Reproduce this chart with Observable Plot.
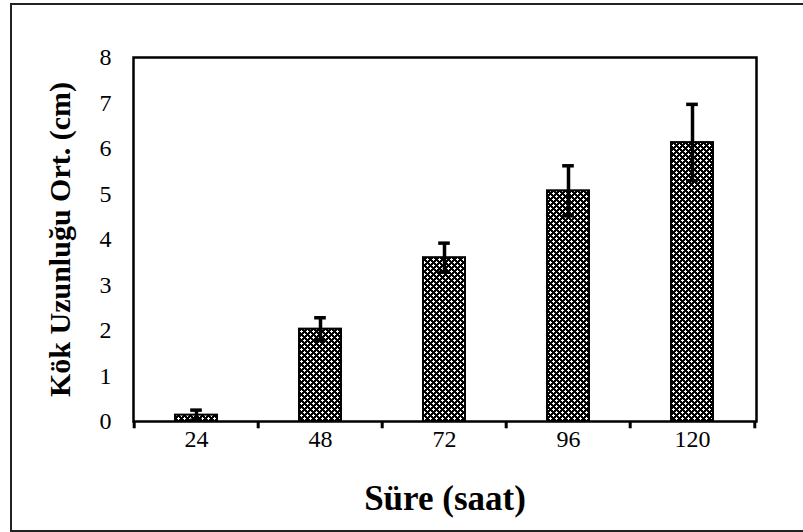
<!DOCTYPE html>
<html>
<head>
<meta charset="utf-8">
<script src="https://cdn.jsdelivr.net/npm/d3@7"></script>
<script src="https://cdn.jsdelivr.net/npm/@observablehq/plot@0.6"></script>
<style>
  html, body { margin: 0; padding: 0; background: #fff; }
  #wrap { position: relative; width: 803px; height: 532px; overflow: hidden; }
  #border { position: absolute; left: 10px; top: 3px; width: 820px; height: 525px; border: 2px solid #222; pointer-events: none; }
</style>
</head>
<body>
<div id="wrap"><div id="chart"></div><div id="border"></div></div>
<script>
const hours = ["24", "48", "72", "96", "120"];
const meanLength = [0.14, 2.03, 3.60, 5.07, 6.13];
const errLength = [0.11, 0.25, 0.32, 0.55, 0.84];
const yTicks = [0, 1, 2, 3, 4, 5, 6, 7, 8];

const data = hours.map((h, i) => ({h, m: meanLength[i], e: errLength[i]}));

const W = 803, H = 532, ML = 133, MR = 47, MT = 57, MB = 111;
const PAD = 0.66;
const step = (W - ML - MR) / hours.length;
const bandW = step * (1 - PAD);
const capInset = (bandW - 12) / 2;
const serif = "'Liberation Serif', 'Times New Roman', serif";

const chart = Plot.plot({
  width: W, height: H,
  marginLeft: ML, marginRight: MR, marginTop: MT, marginBottom: MB,
  style: {fontFamily: serif, fontSize: "24px", color: "#000", background: "transparent"},
  x: {domain: hours, paddingInner: PAD, paddingOuter: PAD / 2, label: "Süre (saat)", labelAnchor: "center", labelArrow: "none", labelOffset: 88, tickSize: 0, tickPadding: 8},
  y: {domain: [0, 8], ticks: yTicks, label: "Kök Uzunluğu Ort. (cm)", labelAnchor: "center", labelArrow: "none", labelOffset: 85, tickSize: 0, tickPadding: 22},
  marks: [
    Plot.barY(data, {x: "h", y: "m", fill: "url(#chk)", stroke: "#000", strokeWidth: 2}),
    Plot.ruleX(data, {x: "h", y1: d => d.m - d.e, y2: d => d.m + d.e, stroke: "#000", strokeWidth: 3.5}),
    Plot.tickY(data, {x: "h", y: d => d.m + d.e, stroke: "#000", strokeWidth: 3.5, insetLeft: capInset, insetRight: capInset}),
    Plot.tickY(data, {x: "h", y: d => d.m - d.e, stroke: "#000", strokeWidth: 3.5, insetLeft: capInset, insetRight: capInset}),
    Plot.ruleX(hours, {x: d => d, dx: -step / 2, y1: 0, y2: -0.16, stroke: "#000", strokeWidth: 3}),
    Plot.ruleX(hours.slice(-1), {x: d => d, dx: step / 2, y1: 0, y2: -0.16, stroke: "#000", strokeWidth: 3}),
    Plot.frame({stroke: "#000", strokeWidth: 2.5})
  ]
});

// dotted checker pattern definition (white plus-shaped dots on black, staggered)
const ns = "http://www.w3.org/2000/svg";
const defs = document.createElementNS(ns, "defs");
const pat = document.createElementNS(ns, "pattern");
pat.setAttribute("id", "chk");
pat.setAttribute("patternUnits", "userSpaceOnUse");
pat.setAttribute("width", "6");
pat.setAttribute("height", "6");
pat.setAttribute("shape-rendering", "crispEdges");
const bg = document.createElementNS(ns, "rect");
bg.setAttribute("width", "6"); bg.setAttribute("height", "6"); bg.setAttribute("fill", "#000");
pat.appendChild(bg);
[[1,0],[0,1],[1,1],[2,1],[1,2],[4,3],[3,4],[4,4],[5,4],[4,5]].forEach(([px, py]) => {
  const r = document.createElementNS(ns, "rect");
  r.setAttribute("x", px); r.setAttribute("y", py);
  r.setAttribute("width", "1"); r.setAttribute("height", "1");
  r.setAttribute("fill", "#fff");
  pat.appendChild(r);
});
defs.appendChild(pat);
chart.insertBefore(defs, chart.firstChild);

chart.querySelectorAll("[aria-label='x-axis label'] text").forEach(t => {
  t.style.fontWeight = "bold";
  t.style.fontSize = "35px";
});
chart.querySelectorAll("[aria-label='y-axis label'] text").forEach(t => {
  t.style.fontWeight = "bold";
  t.style.fontSize = "30px";
});

document.getElementById("chart").appendChild(chart);
</script>
</body>
</html>
